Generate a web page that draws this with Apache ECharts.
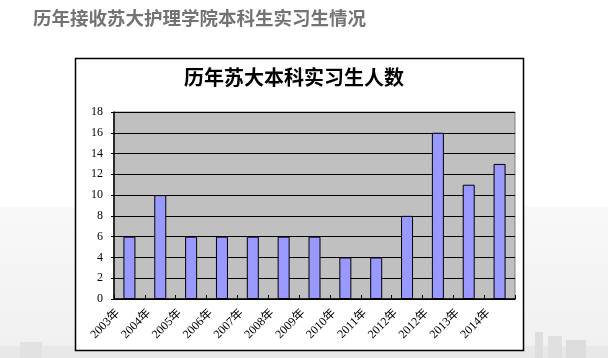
<!DOCTYPE html>
<html><head><meta charset="utf-8">
<script src="https://cdn.jsdelivr.net/npm/echarts@6/dist/echarts.min.js"></script>
<style>html,body{margin:0;padding:0;background:#fff}#c{width:608px;height:358px}</style>
</head><body><div id="c"></div>
<script>
const pageTitle = '历年接收苏大护理学院本科生实习生情况';
const chartTitle = '历年苏大本科实习生人数';
const categories = ['2003年','2004年','2005年','2006年','2007年','2008年','2009年','2010年','2011年','2012年','2012年','2013年','2014年'];
const values = [6,10,6,6,6,6,6,4,4,8,16,11,13];
const yTicks = [0,2,4,6,8,10,12,14,16,18];

const chart = echarts.init(document.getElementById('c'), null, {renderer:'canvas'});
const serif = '"Liberation Serif","Noto Sans CJK SC",serif';
chart.setOption({
  animation:false,
  backgroundColor:'#ffffff',
  graphic:[
    {type:'rect', z:-20, shape:{x:0,y:207,width:608,height:151},
      style:{fill:new echarts.graphic.LinearGradient(0,0,0,1,[{offset:0,color:'#f8f8f8'},{offset:1,color:'#f0f0f0'}])}},
    {type:'rect', z:-19, shape:{x:0,y:346,width:608,height:12}, style:{fill:'#e8e8e8'}},
    {type:'rect', z:-19, shape:{x:535,y:332,width:8,height:26}, style:{fill:'#dedede'}},
    {type:'rect', z:-19, shape:{x:548,y:336,width:14,height:22}, style:{fill:'#e0e0e0'}},
    {type:'rect', z:-19, shape:{x:566,y:340,width:20,height:18}, style:{fill:'#dcdcdc'}},
    {type:'rect', z:-19, shape:{x:20,y:342,width:22,height:16}, style:{fill:'#e2e2e2'}},
    {type:'text', z:10, left:33, top:9,
      style:{text:pageTitle, font:'bold 18.5px "Noto Sans CJK SC"', fill:'#737373',
        shadowColor:'rgba(0,0,0,0.25)', shadowBlur:2, shadowOffsetX:1, shadowOffsetY:1}},
    {type:'rect', z:-5, shape:{x:75.5,y:58.5,width:448,height:292},
      style:{fill:'#ffffff', stroke:'#000000', lineWidth:1.5}},
    {type:'text', z:10, left:184, top:67,
      style:{text:chartTitle, font:'bold 20px "Noto Sans CJK SC"', fill:'#000'}}
  ],
  grid:{left:114, right:93, top:112, bottom:59, show:true, backgroundColor:'#c0c0c0', borderColor:'#808080', borderWidth:1},
  xAxis:{type:'category', data:categories, boundaryGap:true,
    axisLine:{show:true, lineStyle:{color:'#000', width:1.5}},
    axisTick:{show:true, inside:true, length:4, lineStyle:{color:'#000'}},
    axisLabel:{rotate:45, fontFamily:serif, fontSize:12, color:'#000', margin:1, padding:[0,16,0,0], interval:0},
    splitLine:{show:false}
  },
  yAxis:{type:'value', min:0, max:18, interval:2,
    axisLine:{show:true, lineStyle:{color:'#000', width:1.5}},
    axisTick:{show:true, length:3, lineStyle:{color:'#000'}},
    axisLabel:{fontFamily:serif, fontSize:12, color:'#000', margin:11,
      formatter:function(v){return yTicks.indexOf(v)>=0?String(v):'';}},
    splitLine:{show:true, lineStyle:{color:'#000', width:1}}
  },
  series:[{type:'bar', data:values, barWidth:12,
    itemStyle:{color:'#9999ff', borderColor:'#000', borderWidth:1}}]
});
</script></body></html>
